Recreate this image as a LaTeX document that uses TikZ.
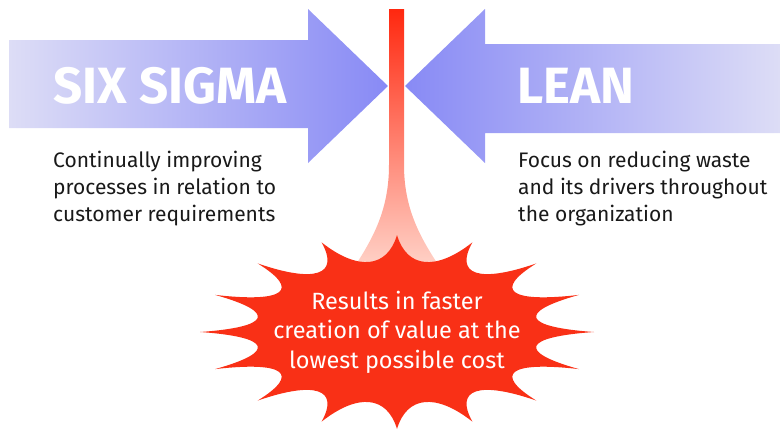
\documentclass[tikz,border=0pt]{standalone}
\usepackage{fontspec}
\setmainfont{Fira Sans}
\usetikzlibrary{calc}
\definecolor{arrowpale}{RGB}{221,221,246}
\definecolor{arrowdeep}{RGB}{136,138,245}
\definecolor{burstred}{RGB}{249,48,22}
\definecolor{stemtop}{RGB}{255,40,15}
\definecolor{stembottom}{RGB}{255,218,208}
\definecolor{textdark}{RGB}{25,25,25}

\begin{document}
\begin{tikzpicture}[
  x=1pt, y=-1pt,
  title/.style={font=\fontsize{51}{51}\selectfont\bfseries, text=white,
                anchor=base west, inner sep=0pt},
  desc/.style={font=\fontsize{21}{27}\selectfont, text=textdark,
               align=left, anchor=north west, inner sep=0pt},
  result/.style={font=\fontsize{23.5}{29.5}\selectfont, text=white,
                 align=center, inner sep=0pt}
]
  \useasboundingbox (0,0) rectangle (780,431);

  % stem flaring into the burst
  \shade[top color=stemtop, bottom color=stembottom]
    (389,9) -- (404,9) -- (404,165) .. controls (404,215) and (425,245) .. (447,278)
    -- (347,278) .. controls (369,245) and (389,215) .. (389,165) -- cycle;

  % the two arrows
  \shade[left color=arrowpale, right color=arrowdeep]
    (9,40) -- (308,40) -- (308,9) -- (388,86) -- (308,163) -- (308,128) -- (9,128) -- cycle;
  \shade[left color=arrowdeep, right color=arrowpale]
    (780,44) -- (485,44) -- (485,9) -- (405,86) -- (485,163) -- (485,133) -- (780,133) -- cycle;

  % burst: 16 thin spikes round an elliptic body
  \fill[burstred] (397,235)
    \foreach \a in {1,...,16}{
      .. controls ({397+126*cos(85.5-22.5*(\a-1))}, {332-64*sin(85.5-22.5*(\a-1))})
         and ({397+126*cos(94.5-22.5*\a)}, {332-64*sin(94.5-22.5*\a)})
      .. ({397+197*cos(90-22.5*\a)}, {332-97*sin(90-22.5*\a)})
    } -- cycle;

  \node[title] (sixsigma) at (53,103) {SIX SIGMA};
  \node[title] (lean)     at (517,103) {LEAN};

  \node[desc] (sigmadesc) at (53,151)
    {Continually improving\\processes in relation to\\customer requirements};
  \node[desc] (leandesc)  at (518,151)
    {Focus on reducing waste\\and its drivers throughout\\the organization};

  \node[result] (outcome) at (397,332)
    {Results in faster\\creation of value at the\\lowest possible cost};
\end{tikzpicture}
\end{document}
